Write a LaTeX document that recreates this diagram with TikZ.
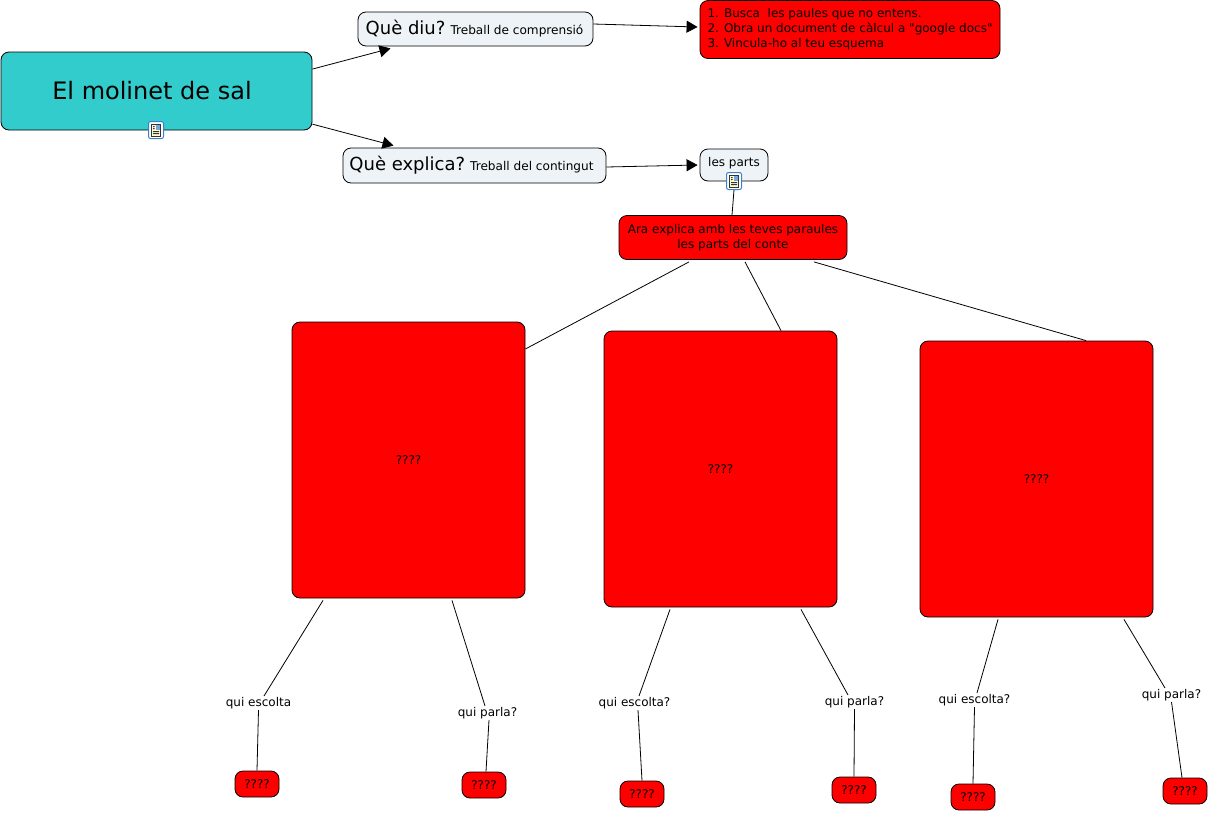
\documentclass[tikz,border=0pt]{standalone}
\usepackage{fontspec}
\setmainfont{DejaVu Sans}
\newfontfamily\rawfont{DejaVu Sans}
\usetikzlibrary{arrows.meta,positioning}
\definecolor{mainfill}{HTML}{33CCCC}
\definecolor{softfill}{HTML}{EDF3F6}
\definecolor{iconblue}{HTML}{3F7FD0}
\definecolor{iconpaper}{HTML}{FFFBD0}
\newcommand{\SizeBig}{\fontsize{24}{28}\selectfont}
\newcommand{\SizeMid}{\fontsize{18}{22}\selectfont}
\newcommand{\SizeNote}{\fontsize{12.1}{15}\selectfont}
\newcommand{\SizeSmall}{\fontsize{12}{15}\selectfont}
\newcommand{\Unknown}{????}
\tikzset{
  softbox/.style={draw=black,line width=0.8pt,fill=softfill,rounded corners=8pt,inner sep=0pt,font=\SizeSmall,align=center},
  redbox/.style={draw=black,line width=0.8pt,fill=red,rounded corners=8pt,inner sep=0pt,font=\SizeSmall,align=center},
  tinybox/.style={redbox,minimum width=44pt,minimum height=26pt},
  linklabel/.style={inner sep=1pt,font=\SizeSmall},
  iconbox/.style={draw=iconblue,fill=white,line width=1pt,rounded corners=2pt,minimum width=15pt,minimum height=17pt,inner sep=0pt},
  arrowlink/.style={-{Triangle[length=11pt,width=12pt]},line width=0.8pt},
  plainlink/.style={line width=0.8pt},
  notelines/.pic={
    \fill[black!80] (-5,-6) rectangle (5,6.5);
    \fill[iconpaper] (-4,-5) rectangle (4,5.5);
    \fill[iconblue!70] (-0.5,-5) rectangle (4,0);
    \fill[black!80] (-3,-4) rectangle (-1.5,-3) (-3,-2) rectangle (-1.5,-1);
    \fill[black!80] (-3,1) rectangle (3,2) (-3,3) rectangle (3,4);
  }
}
\begin{document}
\begin{tikzpicture}[x=1pt,y=-1pt]
  \useasboundingbox (0,0) rectangle (1208,812);
  \node[softbox,fill=mainfill,minimum width=311pt,minimum height=78pt,font=\SizeBig] (molinet) at (156.5,91) {\hspace*{-9pt}El molinet de sal};
  \node[softbox,minimum width=235pt,minimum height=34pt] (diu) at (475.5,29) {\hspace*{-2pt}{\SizeMid Què diu?} {\SizeNote Treball de comprensió}};
  \node[softbox,minimum width=263pt,minimum height=35pt] (explica) at (474.5,165.5) {\hspace*{-6pt}{\SizeMid Què explica?} {\SizeNote Treball del contingut}};
  \node[redbox,minimum width=300pt,minimum height=58pt,align=left] (passos) at (850,29.5) {1. Busca\ \ les paules que no entens.\\2. Obra un document de càlcul a {\rawfont\SizeSmall"}google docs{\rawfont\SizeSmall"}\\3. Vincula-ho al teu esquema};
  \node[softbox,minimum width=68pt,minimum height=32pt] (parts) at (734,165) {\raisebox{6pt}{les parts}};
  \node[redbox,minimum width=228pt,minimum height=44pt] (ara) at (733,237.5) {Ara explica amb les teves paraules\\les parts del conte};

  \node[redbox,minimum width=233pt,minimum height=276pt] (partA) at (408.5,460) {\Unknown};
  \node[redbox,minimum width=233pt,minimum height=276pt] (partB) at (720.5,469) {\Unknown};
  \node[redbox,minimum width=233pt,minimum height=276pt] (partC) at (1036.5,479) {\Unknown};

  \node[linklabel] (escoltaA) at (258.5,703) {qui escolta};
  \node[linklabel] (parlaA) at (487.5,713) {qui parla?};
  \node[linklabel] (escoltaB) at (634.5,703) {qui escolta?};
  \node[linklabel] (parlaB) at (854.5,702) {qui parla?};
  \node[linklabel] (escoltaC) at (974.5,700) {qui escolta?};
  \node[linklabel] (parlaC) at (1171.5,695) {qui parla?};

  \foreach \name/\xpos/\ypos in {tinyA/257/784,tinyB/484/785,tinyC/642/794,tinyD/854/790,tinyE/973/797,tinyF/1185/791}
    \node[tinybox] (\name) at (\xpos,\ypos) {\Unknown};

  \node[iconbox] (iconA) at (156,130) {};
  \pic at (iconA) {notelines};
  \node[iconbox] (iconB) at (734,181) {};
  \pic at (iconB) {notelines};

  \draw[arrowlink] (molinet.8.4) -- ([xshift=-85pt,yshift=-2pt]diu.south);
  \draw[arrowlink] (molinet.-12) -- ([xshift=-81pt,yshift=2pt]explica.north);
  \draw[arrowlink] ([yshift=5pt]diu.east) -- ([yshift=2.5pt,xshift=-2pt]passos.west);
  \draw[arrowlink] ([yshift=-1.5pt]explica.east) -- ([xshift=-2pt]parts.west);
  \draw[plainlink] (iconB.south) -- ([xshift=-1pt]ara.north);

  \draw[plainlink] ([xshift=-44pt,yshift=-2pt]ara.south) -- ([yshift=111pt]partA.east);
  \draw[plainlink] ([xshift=12pt,yshift=-2pt]ara.south) -- ([xshift=60.5pt]partB.north);
  \draw[plainlink] ([xshift=81pt,yshift=-2pt]ara.south) -- ([xshift=49.5pt]partC.north);

  \draw[plainlink] ([xshift=-85.5pt,yshift=-2pt]partA.south) -- ([xshift=5.5pt]escoltaA.north);
  \draw[plainlink] (escoltaA.south) -- (tinyA.north);
  \draw[plainlink] ([xshift=43.5pt,yshift=-2pt]partA.south) -- ([xshift=-2.5pt]parlaA.north);
  \draw[plainlink] ([xshift=1.5pt]parlaA.south) -- ([xshift=2pt]tinyB.north);
  \draw[plainlink] ([xshift=-50.5pt,yshift=-2pt]partB.south) -- ([xshift=4.5pt]escoltaB.north);
  \draw[plainlink] ([xshift=3.5pt]escoltaB.south) -- (tinyC.north);
  \draw[plainlink] ([xshift=80.5pt,yshift=-2pt]partB.south) -- ([xshift=-6.5pt]parlaB.north);
  \draw[plainlink] (parlaB.south) -- (tinyD.north);
  \draw[plainlink] ([xshift=-38.5pt,yshift=-2pt]partC.south) -- ([xshift=2.5pt]escoltaC.north);
  \draw[plainlink] (escoltaC.south) -- (tinyE.north);
  \draw[plainlink] ([xshift=87.5pt,yshift=-2pt]partC.south) -- ([xshift=-6.5pt]parlaC.north);
  \draw[plainlink] (parlaC.south) -- ([xshift=-3pt]tinyF.north);
\end{tikzpicture}
\end{document}
